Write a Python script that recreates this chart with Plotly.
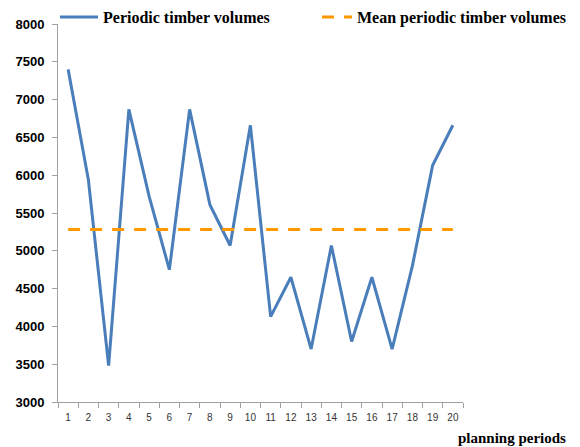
import plotly.graph_objects as go

periods = [str(i) for i in range(1, 21)]
volumes = [7400, 5940, 3480, 6870, 5720, 4750, 6870, 5610, 5070, 6660,
           4130, 4650, 3700, 5070, 3800, 4650, 3700, 4800, 6130, 6660]
mean_volume = [5283] * 20
y_ticks = [3000, 3500, 4000, 4500, 5000, 5500, 6000, 6500, 7000, 7500, 8000]

legend_font = dict(family="Liberation Serif", size=16, color="black", weight="bold")

fig = go.Figure()
fig.add_trace(go.Scatter(x=periods, y=volumes, mode="lines",
                         name="Periodic timber volumes", legend="legend",
                         line=dict(color="#4a7ebb", width=3)))
fig.add_trace(go.Scatter(x=periods, y=mean_volume, mode="lines",
                         name="Mean periodic timber volumes", legend="legend2",
                         line=dict(color="#FF9900", width=3, dash="12px,10px")))

fig.update_layout(
    width=580, height=447,
    margin=dict(l=58, r=117, t=24, b=45, autoexpand=False),
    paper_bgcolor="white", plot_bgcolor="white",
    showlegend=True,
    legend=dict(orientation="h", xref="container", yref="container",
                x=55/580, y=1.0, xanchor="left", yanchor="top",
                itemwidth=38, font=legend_font, bgcolor="rgba(0,0,0,0)"),
    legend2=dict(orientation="h", xref="container", yref="container",
                 x=317/580, y=1.0, xanchor="left", yanchor="top",
                 itemwidth=30, font=legend_font, bgcolor="rgba(0,0,0,0)"),
    xaxis=dict(type="category", showgrid=False, showline=True,
               linecolor="#a0a0a0", linewidth=1,
               ticks="outside", tickson="boundaries", ticklen=5,
               tickcolor="#a0a0a0", tickangle=0, ticklabelstandoff=6,
               tickfont=dict(family="Liberation Sans", size=10, color="#333333"),
               range=[-0.5, 19.5]),
    yaxis=dict(range=[3000, 8000], tickvals=y_ticks, showgrid=False,
               showline=True, linecolor="#a0a0a0", linewidth=1,
               ticks="outside", ticklen=5, tickcolor="#a0a0a0", ticklabelstandoff=5,
               tickfont=dict(family="Liberation Sans", size=13, color="black", weight="bold"),
               zeroline=False),
    annotations=[dict(text="<b>planning periods</b>", xref="paper", yref="paper",
                      x=1.26, y=0, yshift=-36, xanchor="right", yanchor="middle",
                      showarrow=False,
                      font=dict(family="Liberation Serif", size=15, color="black"))],
)

fig.write_html("out.html", config={"displayModeBar": False},
               post_script="document.body.style.margin='0';")
